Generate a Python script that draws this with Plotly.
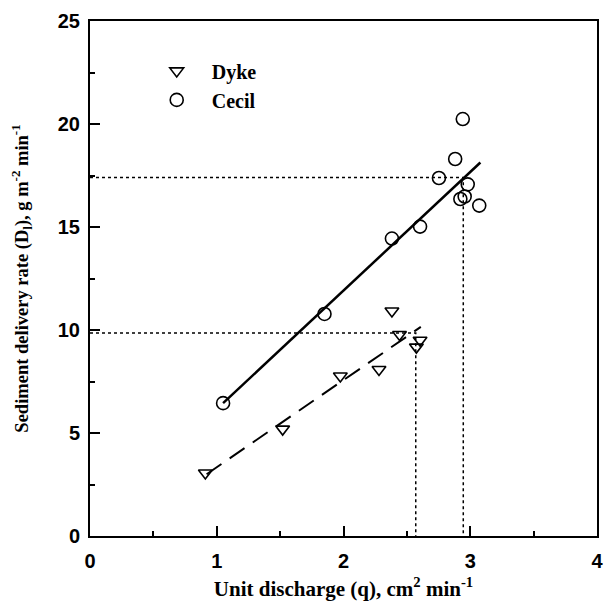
import plotly.graph_objects as go

# Data
dyke_q = [0.91, 1.52, 1.975, 2.28, 2.382, 2.442, 2.575, 2.604]
dyke_d = [3.06, 5.19, 7.77, 8.08, 10.92, 9.78, 9.17, 9.50]
cecil_q = [1.05, 1.85, 2.382, 2.604, 2.753, 2.881, 2.941, 2.980, 2.922, 2.956, 3.071]
cecil_d = [6.45, 10.78, 14.44, 15.02, 17.38, 18.30, 20.24, 17.07, 16.36, 16.48, 16.04]

# Regression lines
cecil_fit_q = [1.05, 3.08]
cecil_fit_d = [6.45, 18.13]
dyke_fit_q = [0.92, 2.61]
dyke_fit_d = [3.0, 10.15]

# Dotted reference lines (q, D pairs)
ref_q = [2.945, 2.57]
ref_d = [17.4, 9.85]

x_ticks = [0, 1, 2, 3, 4]
y_ticks = [0, 5, 10, 15, 20, 25]

fig = go.Figure()

for q, d in zip(ref_q, ref_d):
    fig.add_trace(go.Scatter(x=[0, q, q], y=[d, d, 0], mode="lines",
                             line=dict(color="black", width=1.5, dash="dot"),
                             showlegend=False, hoverinfo="skip"))

fig.add_trace(go.Scatter(x=cecil_fit_q, y=cecil_fit_d, mode="lines",
                         line=dict(color="black", width=2.5), showlegend=False))
fig.add_trace(go.Scatter(x=dyke_fit_q, y=dyke_fit_d, mode="lines",
                         line=dict(color="black", width=2, dash="18px,10px"), showlegend=False))

fig.add_trace(go.Scatter(x=dyke_q, y=dyke_d, mode="markers", name="Dyke",
                         marker=dict(symbol="triangle-down-open", size=12, color="black",
                                     line=dict(width=1.6))))
fig.add_trace(go.Scatter(x=cecil_q, y=cecil_d, mode="markers", name="Cecil",
                         marker=dict(symbol="circle-open", size=13, color="black",
                                     line=dict(width=1.6))))

axis_common = dict(showline=True, linecolor="black", linewidth=2, mirror=True,
                   ticks="inside", ticklen=10, tickwidth=2, tickcolor="black",
                   showgrid=False, zeroline=False, ticklabeloverflow="allow",
                   tickfont=dict(family="Liberation Sans", size=20, color="black", weight="bold"))

fig.update_xaxes(range=[0, 4], tickvals=x_ticks, **axis_common, ticklabelstandoff=6,
                 minor=dict(ticks="inside", ticklen=5, tickwidth=1.5, tickcolor="black", dtick=0.5),
                 title=dict(text="Unit discharge (q), cm<sup>2</sup> min<sup>-1</sup>",
                            font=dict(family="Liberation Serif", size=21, color="black", weight="bold"),
                            standoff=10))
fig.update_yaxes(range=[0, 25], tickvals=y_ticks, **axis_common, ticklabelstandoff=4,
                 minor=dict(ticks="inside", ticklen=5, tickwidth=1.5, tickcolor="black", dtick=2.5),
                 title=dict(text="Sediment delivery rate (D<sub>l</sub>), g m<sup>-2</sup> min<sup>-1</sup>",
                            font=dict(family="Liberation Serif", size=18.5, color="black", weight="bold"),
                            standoff=24))

fig.update_layout(
    width=605, height=601,
    margin=dict(l=90, r=2, t=21, b=65),
    plot_bgcolor="white", paper_bgcolor="white",
    font=dict(family="Liberation Serif", color="black"),
    legend=dict(x=0.102, y=0.941, xanchor="left", yanchor="top",
                bgcolor="rgba(0,0,0,0)", itemwidth=60, tracegroupgap=0,
                font=dict(family="Liberation Serif", size=20, color="black", weight="bold")),
)

fig.write_html("out.html")
